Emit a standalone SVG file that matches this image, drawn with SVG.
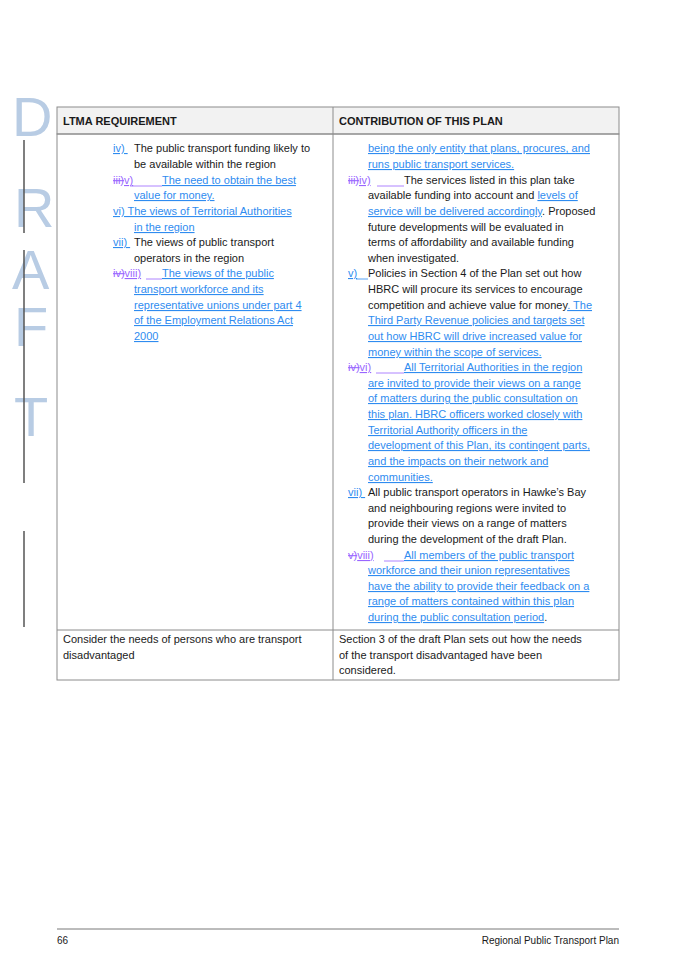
<svg xmlns="http://www.w3.org/2000/svg" width="675" height="962" viewBox="0 0 675 962">
<style>
text{font-family:"Liberation Sans",Arial,sans-serif;font-size:11px;fill:#1a1a1a}
.b{fill:#2f8cf0;text-decoration:underline}
.p{fill:#9966ff;text-decoration:underline}
.s{fill:#9966ff;text-decoration:line-through}
.h{font-weight:bold;font-size:11px}
.w{font-size:56px;fill:#b8cce4;font-family:"Liberation Sans",Arial,sans-serif}
.g{stroke:#2f8cf0;stroke-width:0.8}
.gp{stroke:#9966ff;stroke-width:0.8}
.bar{stroke:#555;stroke-width:1.5}
</style>
<g id="watermark">
<text class="w" x="12" y="136">D</text>
<text class="w" x="14" y="227">R</text>
<text class="w" x="12" y="289">A</text>
<text class="w" x="14" y="346">F</text>
<text class="w" x="14" y="436">T</text>
<line class="bar" x1="24" y1="140" x2="24" y2="233"/>
<line class="bar" x1="24" y1="250" x2="24" y2="483"/>
<line class="bar" x1="24" y1="531" x2="24" y2="627"/>
</g>
<g id="table">
<rect x="57" y="107" width="562" height="27" fill="#f2f2f2" stroke="#8c8c8c"/>
<rect x="57" y="134" width="562" height="546" fill="none" stroke="#8c8c8c"/>
<line x1="57" y1="630" x2="619" y2="630" stroke="#8c8c8c"/>
<line x1="333" y1="107" x2="333" y2="680" stroke="#8c8c8c"/>
<text class="h" x="63" y="125">LTMA REQUIREMENT</text>
<text class="h" x="339" y="125">CONTRIBUTION OF THIS PLAN</text>
</g>
<g id="left">
<text x="113" y="152"><tspan class="b">iv) </tspan><tspan x="134">The public transport funding likely to</tspan></text>
<text x="134" y="168">be available within the region</text>
<text x="113" y="184"><tspan class="s">iii)</tspan><tspan class="p">v)</tspan><tspan class="b" x="162">The need to obtain the best</tspan></text>
<line class="gp" x1="130" y1="186" x2="162" y2="186"/>
<text x="134" y="199" class="b">value for money.</text>
<text x="113" y="215"><tspan class="b">vi)  The views of Territorial Authorities</tspan></text>
<text x="134" y="231" class="b">in the region</text>
<text x="113" y="246"><tspan class="b">vii) </tspan><tspan x="134">The views of public transport</tspan></text>
<text x="134" y="262">operators in the region</text>
<text x="113" y="277"><tspan class="s">iv)</tspan><tspan class="p">viii)</tspan><tspan class="b" x="162">The views of the public</tspan></text>
<line class="gp" x1="146" y1="279" x2="162" y2="279"/>
<text x="134" y="293" class="b">transport workforce and its</text>
<text x="134" y="309" class="b">representative unions under part 4</text>
<text x="134" y="324" class="b">of the Employment Relations Act</text>
<text x="134" y="340" class="b">2000</text>
<text x="63" y="643">Consider the needs of persons who are transport</text>
<text x="63" y="659">disadvantaged</text>
</g>
<g id="right">
<text x="368" y="152" class="b">being the only entity that plans, procures, and</text>
<text x="368" y="168" class="b">runs public transport services.</text>
<text x="348" y="184"><tspan class="s">iii)</tspan><tspan class="p">iv)</tspan><tspan x="404">The services listed in this plan take</tspan></text>
<line class="gp" x1="377" y1="186" x2="404" y2="186"/>
<text x="368" y="199">available funding into account and <tspan class="b">levels of</tspan></text>
<text x="368" y="215"><tspan class="b">service will be delivered accordingly</tspan>. Proposed</text>
<text x="368" y="231">future developments will be evaluated in</text>
<text x="368" y="246">terms of affordability and available funding</text>
<text x="368" y="262">when investigated.</text>
<text x="348" y="277"><tspan class="b">v)</tspan><tspan x="368">Policies in Section 4 of the Plan set out how</tspan></text>
<line class="g" x1="356" y1="279" x2="368" y2="279"/>
<text x="368" y="293">HBRC will procure its services to encourage</text>
<text x="368" y="309">competition and achieve value for money<tspan class="b">. The</tspan></text>
<text x="368" y="324" class="b">Third Party Revenue policies and targets set</text>
<text x="368" y="340" class="b">out how HBRC will drive increased value for</text>
<text x="368" y="356" class="b">money within the scope of services.</text>
<text x="348" y="371"><tspan class="s">iv)</tspan><tspan class="p">vi)</tspan><tspan class="b" x="404">All Territorial Authorities in the region</tspan></text>
<line class="gp" x1="376" y1="373" x2="404" y2="373"/>
<text x="368" y="387" class="b">are invited to provide their views on a range</text>
<text x="368" y="402" class="b">of matters during the public consultation on</text>
<text x="368" y="418" class="b">this plan. HBRC officers worked closely with</text>
<text x="368" y="434" class="b">Territorial Authority officers in the</text>
<text x="368" y="449" class="b">development of this Plan, its contingent parts,</text>
<text x="368" y="465" class="b">and the impacts on their network and</text>
<text x="368" y="481" class="b">communities.</text>
<text x="348" y="496"><tspan class="b">vii) </tspan><tspan x="368">All public transport operators in Hawke’s Bay</tspan></text>
<text x="368" y="512">and neighbouring regions were invited to</text>
<text x="368" y="527">provide their views on a range of matters</text>
<text x="368" y="543">during the development of the draft Plan.</text>
<text x="348" y="559"><tspan class="s">v)</tspan><tspan class="p">viii)</tspan><tspan class="b" x="404">All members of the public transport</tspan></text>
<line class="gp" x1="384" y1="561" x2="404" y2="561"/>
<text x="368" y="574" class="b">workforce and their union representatives</text>
<text x="368" y="590" class="b">have the ability to provide their feedback on a</text>
<text x="368" y="605" class="b">range of matters contained within this plan</text>
<text x="368" y="621"><tspan class="b">during the public consultation period</tspan>.</text>
<text x="339" y="643">Section 3 of the draft Plan sets out how the needs</text>
<text x="339" y="659">of the transport disadvantaged have been</text>
<text x="339" y="674">considered.</text>
</g>
<g id="footer">
<line x1="57" y1="929" x2="619" y2="929" stroke="#555" stroke-width="0.8"/>
<text x="57" y="944" style="font-size:10px">66</text>
<text x="619" y="944" text-anchor="end" style="font-size:10px">Regional Public Transport Plan</text>
</g>
</svg>
